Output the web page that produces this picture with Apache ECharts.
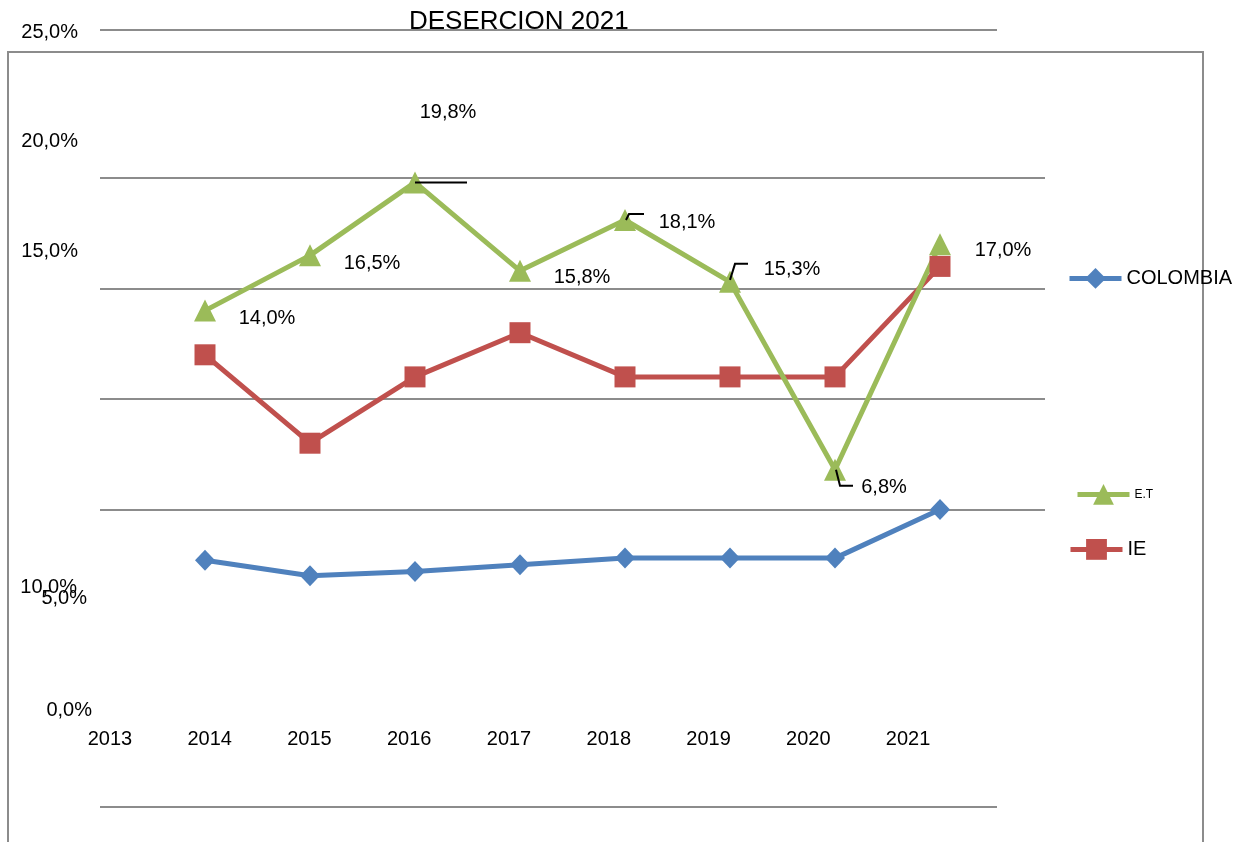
<!DOCTYPE html>
<html>
<head>
<meta charset="utf-8">
<script src="https://cdn.jsdelivr.net/npm/echarts@6/dist/echarts.min.js"></script>
<style>
html, body { margin: 0; padding: 0; background: #fff; }
#main { width: 1235px; height: 842px; }
</style>
</head>
<body>
<div id="main"></div>
<script>
// datos
var years = [2014, 2015, 2016, 2017, 2018, 2019, 2020, 2021];
var axisYears = ['2013', '2014', '2015', '2016', '2017', '2018', '2019', '2020', '2021'];
var colombia = [2.7, 2.0, 2.2, 2.5, 2.8, 2.8, 2.8, 5.0];
var ie = [12.0, 8.0, 11.0, 13.0, 11.0, 11.0, 11.0, 16.0];
var et = [14.0, 16.5, 19.8, 15.8, 18.1, 15.3, 6.8, 17.0];
var yTickLabels = ['25,0%', '20,0%', '15,0%', '10,0%', '5,0%', '0,0%'];

var FONT = 'Liberation Sans, Arial, sans-serif';
var GRID_GRAY = '#8c8c8c';

// donde quedan las etiquetas del eje y (estan corridas en el original)
var yLabelPos = [[78, 32], [78, 141], [78, 251], [77, 587], [87, 598], [92, 710]];
// desplazamiento de las etiquetas de E.T respecto al punto
var etLabelOffset = [[62, 8], [62, 8], [33, -70], [62, 7], [62, 2], [62, -12], [49, 18], [63, 6]];
// lineas guia (en px relativos al punto)
var etLeaderShape = [
    null, null,
    [[0, 0], [52, 0]],
    null,
    [[1, 0], [4, -6], [19, -6]],
    [[0, -2], [5, -18], [18, -18]],
    [[1, 0], [5, 16], [18, 16]],
    null
];

function pairs(vals) {
    return vals.map(function (v, i) { return [years[i], v]; });
}

var etData = et.map(function (v, i) {
    return { value: [years[i], v], label: { offset: etLabelOffset[i] } };
});

var myChart = echarts.init(document.getElementById('main'));

var graphics = [
    { type: 'rect', shape: { x: 8, y: 52, width: 1195, height: 820 },
      style: { fill: 'none', stroke: GRID_GRAY, lineWidth: 2 }, silent: true },
    { type: 'line', shape: { x1: 100, y1: 30, x2: 997, y2: 30 },
      style: { stroke: GRID_GRAY, lineWidth: 2 }, silent: true },
    { type: 'line', shape: { x1: 100, y1: 807, x2: 997, y2: 807 },
      style: { stroke: GRID_GRAY, lineWidth: 2 }, silent: true }
];
yTickLabels.forEach(function (t, i) {
    graphics.push({
        type: 'text', x: yLabelPos[i][0], y: yLabelPos[i][1], z: 10,
        style: { text: t, font: '20px ' + FONT, fill: '#000', align: 'right', verticalAlign: 'middle' }
    });
});

function legendBox(name, left, top, size) {
    return {
        data: [name], left: left, top: top, itemWidth: 52, itemHeight: 26, itemGap: 0,
        lineStyle: { width: 5 },
        textStyle: { fontFamily: FONT, fontSize: size, color: '#000' }
    };
}

myChart.setOption({
    animation: false,
    backgroundColor: '#fff',
    title: {
        text: 'DESERCION 2021',
        left: 404, top: 4,
        textStyle: { fontFamily: FONT, fontSize: 26, fontWeight: 'normal', color: '#000' }
    },
    legend: [
        legendBox('COLOMBIA', 1062, 263, 20),
        legendBox('E.T', 1070, 479, 12),
        legendBox('IE', 1063, 534, 20)
    ],
    graphic: graphics,
    grid: [
        { left: 100, right: 190, top: 178, bottom: 222 },
        { left: 60, right: 277, top: 600, bottom: 121 }
    ],
    xAxis: [
        { type: 'value', gridIndex: 0, min: 2013, max: 2022, interval: 1,
          axisLine: { show: false }, axisTick: { show: false }, axisLabel: { show: false },
          splitLine: { show: false } },
        { type: 'category', gridIndex: 1, data: axisYears, boundaryGap: true,
          axisLine: { show: false }, axisTick: { show: false },
          axisLabel: { fontFamily: FONT, fontSize: 20, color: '#000', margin: 8 } }
    ],
    yAxis: [
        { type: 'value', gridIndex: 0, min: 0, max: 20, interval: 5,
          axisLine: { show: false }, axisTick: { show: false }, axisLabel: { show: false },
          splitLine: { show: true, showMinLine: false, lineStyle: { color: GRID_GRAY, width: 2 } } },
        { type: 'value', gridIndex: 1, show: false }
    ],
    series: [
        {
            name: 'COLOMBIA', type: 'line', data: pairs(colombia), clip: false,
            symbol: 'diamond', symbolSize: [20, 21],
            itemStyle: { color: '#4f81bd' }, lineStyle: { color: '#4f81bd', width: 5 }
        },
        {
            name: 'IE', type: 'line', data: pairs(ie), clip: false,
            symbol: 'rect', symbolSize: 21,
            itemStyle: { color: '#c0504d' }, lineStyle: { color: '#c0504d', width: 5 }
        },
        {
            name: 'E.T', type: 'line', data: etData, clip: false,
            symbol: 'triangle', symbolSize: 22,
            itemStyle: { color: '#9bbb59' }, lineStyle: { color: '#9bbb59', width: 5 },
            label: {
                show: true, position: 'inside', fontFamily: FONT, fontSize: 20, color: '#000',
                formatter: function (p) { return p.value[1].toFixed(1).replace('.', ',') + '%'; }
            }
        },
        {
            name: 'guias', type: 'custom', data: pairs(et), z: 5, silent: true,
            encode: { x: 0, y: 1 },
            renderItem: function (params, api) {
                var s = etLeaderShape[params.dataIndex];
                if (!s) return null;
                var p = api.coord([api.value(0), api.value(1)]);
                return {
                    type: 'polyline',
                    shape: { points: s.map(function (d) { return [p[0] + d[0], p[1] + d[1]]; }) },
                    style: { stroke: '#000', lineWidth: 2, fill: null }
                };
            }
        }
    ]
});
</script>
</body>
</html>
